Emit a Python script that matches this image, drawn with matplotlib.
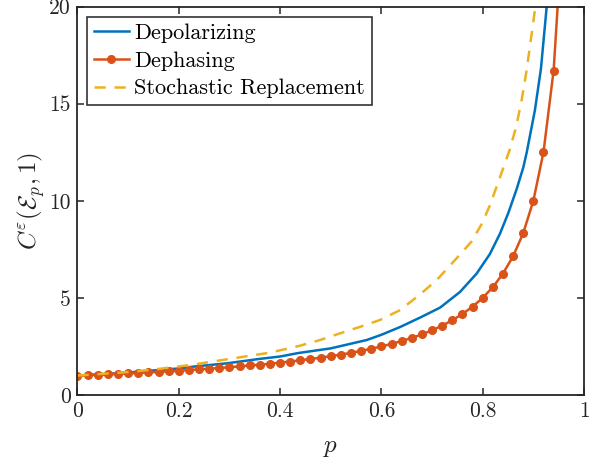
import numpy as np
import matplotlib
matplotlib.use("Agg")
import matplotlib.pyplot as plt

plt.rcParams['font.family'] = 'serif'
plt.rcParams['font.serif'] = ['cmr10']
plt.rcParams['mathtext.fontset'] = 'cm'
plt.rcParams['axes.formatter.use_mathtext'] = True

# Depolarizing
p_depol = [0.0, 0.05, 0.097, 0.163, 0.202, 0.229, 0.295, 0.36, 0.40, 0.436,
           0.50, 0.571, 0.60, 0.637, 0.676, 0.716, 0.755, 0.788, 0.814,
           0.834, 0.851, 0.867, 0.880, 0.887, 0.903, 0.915, 0.926, 0.935]
c_depol = [1.00, 1.07, 1.15, 1.29, 1.37, 1.46, 1.63, 1.86, 1.98, 2.16,
           2.40, 2.83, 3.10, 3.50, 3.98, 4.50, 5.30, 6.25, 7.25,
           8.30, 9.4, 10.6, 11.7, 12.5, 14.65, 16.8, 19.9, 23.0]

# Dephasing (markers every 0.02)
p_deph = [0.00, 0.02, 0.04, 0.06, 0.08, 0.10, 0.12, 0.14, 0.16, 0.18, 0.20,
          0.22, 0.24, 0.26, 0.28, 0.30, 0.32, 0.34, 0.36, 0.38, 0.40, 0.42,
          0.44, 0.46, 0.48, 0.50, 0.52, 0.54, 0.56, 0.58, 0.60, 0.62, 0.64,
          0.66, 0.68, 0.70, 0.72, 0.74, 0.76, 0.78, 0.80, 0.82, 0.84, 0.86,
          0.88, 0.90, 0.92, 0.94, 0.96]
c_deph = [1.00, 1.02, 1.04, 1.06, 1.09, 1.11, 1.14, 1.16, 1.19, 1.22, 1.25,
          1.28, 1.32, 1.35, 1.39, 1.43, 1.47, 1.52, 1.56, 1.61, 1.67, 1.72,
          1.79, 1.85, 1.92, 2.00, 2.08, 2.17, 2.27, 2.38, 2.50, 2.63, 2.78,
          2.94, 3.12, 3.33, 3.57, 3.85, 4.17, 4.55, 5.00, 5.55, 6.25, 7.14,
          8.33, 10.0, 12.5, 16.7, 25.0]

# Stochastic replacement
p_stoch = [0.0, 0.10, 0.16, 0.222, 0.301, 0.38, 0.437, 0.479, 0.518, 0.558,
           0.597, 0.637, 0.675, 0.709, 0.742, 0.778, 0.798, 0.814, 0.834,
           0.853, 0.866, 0.877, 0.886, 0.893, 0.904, 0.912]
c_stoch = [1.00, 1.18, 1.34, 1.54, 1.86, 2.18, 2.52, 2.83, 3.17, 3.51,
           3.86, 4.37, 5.15, 5.91, 6.85, 7.90, 8.80, 9.75, 11.2,
           12.6, 13.8, 15.2, 16.6, 17.9, 20.0, 22.0]

blue = '#0072BD'
red = '#D95319'
yellow = '#EDB120'
axcol = '#262626'

fig = plt.figure(figsize=(6.03, 4.61), dpi=100)
ax = fig.add_axes([0.1285, 0.1432, 0.84, 0.8427])

ax.plot(p_depol, c_depol, color=blue, lw=1.8, label='Depolarizing')
ax.plot(p_deph, c_deph, color=red, lw=1.8, marker='o', ms=5.5,
        label='Dephasing')
ax.plot(p_stoch, c_stoch, color=yellow, lw=1.8, ls=(0, (4.5, 3.5)),
        label='Stochastic Replacement')

ax.set_xlim(0, 1)
ax.set_ylim(0, 20)
ax.set_xticks([0, 0.2, 0.4, 0.6, 0.8, 1])
ax.set_xticklabels(['0', '0.2', '0.4', '0.6', '0.8', '1'])
ax.set_yticks([0, 5, 10, 15, 20])
ax.set_yticklabels(['0', '5', '10', '15', '20'])
ax.tick_params(direction='in', top=True, right=True, length=5, width=1.1,
               colors=axcol, labelsize=15.5, pad=5)
for s in ax.spines.values():
    s.set_linewidth(1.3)
    s.set_color(axcol)

ax.set_xlabel(r'$p$', fontsize=18, color=axcol, labelpad=11)
ax.set_ylabel(r'$C^{\varepsilon}(\mathcal{E}_p, 1)$', fontsize=18,
              color=axcol, labelpad=1.5)

leg = ax.legend(loc='upper left', fontsize=16, frameon=True, fancybox=False,
                edgecolor='black', handlelength=1.55, handletextpad=0.25,
                borderpad=0.3, labelspacing=0.37, borderaxespad=0.45)
leg.get_frame().set_linewidth(1.2)

fig.savefig('out.png', dpi=100)
